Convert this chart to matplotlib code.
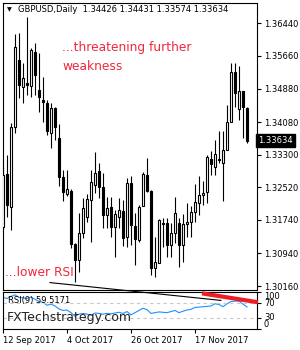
import numpy as np
import matplotlib
matplotlib.use("Agg")
import matplotlib.pyplot as plt

# daily GBPUSD candles, 12 Sep 2017 .. 6 Dec 2017
opens = [1.3157, 1.3284, 1.3205, 1.3396, 1.3556, 1.3492, 1.3501, 1.3494, 1.3575, 1.3485,
         1.3460, 1.3454, 1.3382, 1.3442, 1.3370, 1.3277, 1.3236, 1.3243, 1.3117, 1.3078,
         1.3143, 1.3181, 1.3222, 1.3258, 1.3291, 1.3253, 1.3186, 1.3205, 1.3157, 1.3181,
         1.3195, 1.3133, 1.3262, 1.3160, 1.3126, 1.3207, 1.3281, 1.3243, 1.3059, 1.3071,
         1.3167, 1.3167, 1.3114, 1.3143, 1.3167, 1.3114, 1.3164, 1.3169, 1.3193, 1.3215,
         1.3234, 1.3241, 1.3320, 1.3301, 1.3320, 1.3310, 1.3341, 1.3408, 1.3528, 1.3439,
         1.3482, 1.34426]
highs = [1.3301, 1.3329, 1.3406, 1.3618, 1.3621, 1.3549, 1.3659, 1.3585, 1.3597, 1.3573,
         1.3516, 1.3461, 1.3454, 1.3444, 1.3403, 1.3293, 1.3293, 1.3248, 1.3119, 1.3191,
         1.3226, 1.3236, 1.3293, 1.3336, 1.3310, 1.3286, 1.3229, 1.3229, 1.3198, 1.3226,
         1.3222, 1.3274, 1.3279, 1.3191, 1.3210, 1.3289, 1.3322, 1.3245, 1.3133, 1.3176,
         1.3179, 1.3179, 1.3167, 1.3229, 1.3179, 1.3188, 1.3215, 1.3207, 1.3260, 1.3279,
         1.3267, 1.3329, 1.3339, 1.3365, 1.3387, 1.3387, 1.3449, 1.3549, 1.3549, 1.3542,
         1.3482, 1.34431]
lows = [1.3150, 1.3181, 1.3150, 1.3382, 1.3466, 1.3454, 1.3473, 1.3468, 1.3473, 1.3432,
        1.3408, 1.3377, 1.3346, 1.3365, 1.3255, 1.3219, 1.3231, 1.3107, 1.3026, 1.3050,
        1.3131, 1.3169, 1.3121, 1.3238, 1.3226, 1.3155, 1.3155, 1.3133, 1.3085, 1.3155,
        1.3112, 1.3109, 1.3114, 1.3066, 1.3121, 1.3207, 1.3241, 1.3042, 1.3038, 1.3071,
        1.3109, 1.3085, 1.3085, 1.3119, 1.3062, 1.3073, 1.3133, 1.3133, 1.3169, 1.3186,
        1.3210, 1.3215, 1.3281, 1.3281, 1.3310, 1.3219, 1.3341, 1.3408, 1.3444, 1.3413,
        1.3370, 1.33574]
closes = [1.3281, 1.3210, 1.3396, 1.3587, 1.3497, 1.3513, 1.3497, 1.3580, 1.3520, 1.3468,
          1.3456, 1.3387, 1.3442, 1.3396, 1.3277, 1.3241, 1.3248, 1.3117, 1.3078, 1.3143,
          1.3203, 1.3224, 1.3265, 1.3286, 1.3253, 1.3186, 1.3203, 1.3157, 1.3188, 1.3198,
          1.3131, 1.3262, 1.3162, 1.3128, 1.3205, 1.3284, 1.3243, 1.3059, 1.3073, 1.3174,
          1.3165, 1.3114, 1.3143, 1.3191, 1.3114, 1.3164, 1.3169, 1.3193, 1.3217, 1.3234,
          1.3238, 1.3324, 1.3308, 1.3332, 1.3318, 1.3341, 1.3408, 1.3528, 1.3477, 1.3482,
          1.3444, 1.33634]
# RSI(9) line
rsi = [85, 82, 88, 92, 85, 84, 82, 86, 80, 74,
       72, 64, 67, 62, 54, 50, 51, 44, 34, 40,
       42, 40, 37, 43, 42, 40, 42, 41, 43, 45,
       42, 47, 38, 44, 50, 56, 52, 42, 44, 46,
       45, 44, 47, 50, 44, 48, 51, 53, 58, 59,
       60, 61, 62, 68, 66, 60, 68, 74, 75, 75,
       67, 59.5171]

price_ticks = [1.30160, 1.30940, 1.31740, 1.32520, 1.33300, 1.34080, 1.34880, 1.35660, 1.36440]
rsi_levels = [100, 70, 30, 0]
date_pos = [0, 16, 32, 48]
date_labels = ["12 Sep 2017", "4 Oct 2017", "26 Oct 2017", "17 Nov 2017"]

# trend lines drawn on the RSI window (bar index, RSI value)
red_line_x, red_line_y = [49.75, 63.75], [96, 72]
black_line_x, black_line_y = [11.75, 54.5], [125, 77]

W, H = 300, 350
def px_box(x0, y0, x1, y1):
    return [x0 / W, 1 - y1 / H, (x1 - x0) / W, (y1 - y0) / H]

fig = plt.figure(figsize=(3, 3.5), dpi=100)
ax = fig.add_axes(px_box(2.5, 3, 257, 290))
rx = fig.add_axes(px_box(2.5, 291.5, 257, 329), sharex=ax)

idx = np.arange(len(closes))
o = np.array(opens)
c = np.array(closes)
up = c >= o

# candles
ax.vlines(idx, lows, highs, color="black", lw=0.8, zorder=2)
ax.bar(idx, np.maximum(np.abs(c - o), 0.00003), bottom=np.minimum(o, c), width=0.55,
       color=np.where(up, "white", "black"), edgecolor="black", lw=0.8, zorder=3)

ax.set_xlim(-0.125, 63.5)
ax.set_ylim(1.30066, 1.36925)
ax.yaxis.tick_right()
ax.set_yticks(price_ticks)
ax.set_yticklabels(["%.5f" % t for t in price_ticks])
ax.tick_params(axis="y", labelsize=6, length=3, width=0.8, pad=2)
ax.tick_params(axis="x", bottom=False, labelbottom=False)
for s in ax.spines.values():
    s.set_linewidth(0.8)

# current price box
ax.text(1.004, closes[-1], "%.5f" % closes[-1], transform=ax.get_yaxis_transform(),
        fontsize=6, color="white", va="center", ha="left",
        bbox=dict(boxstyle="square,pad=0.25", fc="black", ec="black"))

# RSI panel
rx.plot(idx, rsi, color="#1e90ff", lw=0.8)
for lv in (70, 30):
    rx.axhline(lv, color="#c8c8c8", lw=0.8, ls=(0, (3, 3)))
rx.plot(red_line_x, red_line_y, color="#ee1c25", lw=3, solid_capstyle="butt", clip_on=False, zorder=5)
rx.plot(black_line_x, black_line_y, color="black", lw=0.8, clip_on=False, zorder=5)
rx.set_ylim(0, 101)
rx.yaxis.tick_right()
rx.set_yticks(rsi_levels)
rx.set_yticklabels([str(v) for v in rsi_levels])
for lbl, va in zip(rx.get_yticklabels(), ["top", "center", "center", "bottom"]):
    lbl.set_va(va)
rx.tick_params(axis="y", labelsize=6, length=3, width=0.8, pad=2)
rx.set_xticks(date_pos)
rx.set_xticklabels(date_labels, ha="left")
rx.tick_params(axis="x", labelsize=6, length=3, width=0.8, pad=2)
for s in rx.spines.values():
    s.set_linewidth(0.8)

# texts
fig.text(7 / W, 1 - 10 / H, "\u25bc", fontsize=4.5, va="center")
fig.text(18 / W, 1 - 10 / H, "GBPUSD,Daily  1.34426 1.34431 1.33574 1.33634", fontsize=6, va="center")
red = "#f0283c"
fig.text(62 / W, 1 - 48 / H, "...threatening further", color=red, fontsize=8.8, va="center")
fig.text(62 / W, 1 - 66 / H, "weakness", color=red, fontsize=8.8, va="center")
fig.text(5 / W, 1 - 272 / H, "...lower RSI", color=red, fontsize=8.8, va="center")
fig.text(8 / W, 1 - 301 / H, "RSI(9) 59.5171", fontsize=6, va="center")
fig.text(7 / W, 1 - 318 / H, "FXTechstrategy.com", fontsize=9, color="#222222", va="center")

fig.savefig("out.png", dpi=100)
